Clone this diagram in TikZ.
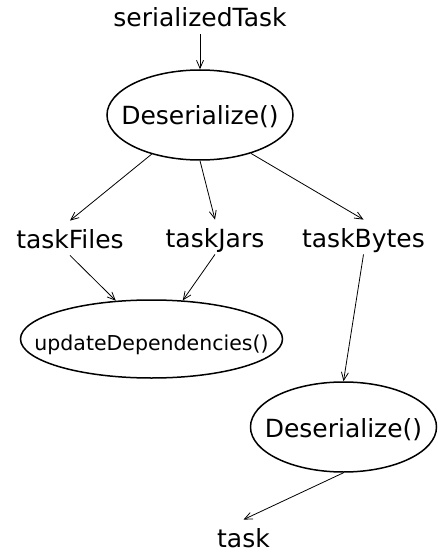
\documentclass[tikz,border=0pt]{standalone}
\usepackage{fontspec}
\setmainfont{DejaVu Sans}
\usetikzlibrary{shapes.geometric,arrows.meta}
\newcommand{\lbl}[2][10pt]{\makebox[0pt]{\raisebox{-#1}[0pt][0pt]{#2}}}

\begin{document}
\begin{tikzpicture}[x=1pt, y=-1pt, line width=0.8pt,
        >={Straight Barb[length=8pt,width=7pt]},
        every node/.style={font=\fontsize{25}{30}\selectfont, inner sep=2pt, text height=25pt, text depth=5pt},
        word/.style={anchor=base},
        call/.style={ellipse, draw, line width=1.5pt, inner sep=0pt, text height=0pt, text depth=0pt,
            minimum width=186pt, minimum height=90pt}]
        \useasboundingbox (0,0) rectangle (437,553);
        \node [word] (ST) at (200,27) {serializedTask};
        \node [call] (DS1) at (200,115) {\lbl{Deserialize()}};
        \node [word] (TF) at (70,248) {taskFiles};
        \node [word] (TJ) at (215,247) {taskJars};
        \node [word] (TB) at (363.5,247) {taskBytes};
        \node [call, minimum width=262pt, minimum height=78pt, font=\fontsize{20.5}{24}\selectfont] (UD) at (151.5,339) {\lbl[11pt]{updateDependencies()}};
        \node [call] (DS2) at (343.5,427) {\lbl{Deserialize()}};
        \node [word] (T) at (243.5,547) {task};
        \draw [->] (ST) -- (DS1);
        \draw [->] (DS1.219) -- (TF.north);
        \draw [->] (DS1.south) -- (TJ.north);
        \draw [->] (DS1.323) -- (TB.north);
        \draw [->] (TF.south) -- (UD.133);
        \draw [->] (TJ.south) -- (UD.51);
        \draw [->] (TB.south) -- (DS2.north);
        \draw [->] (DS2.south) -- (T.north);
\end{tikzpicture}
\end{document}
